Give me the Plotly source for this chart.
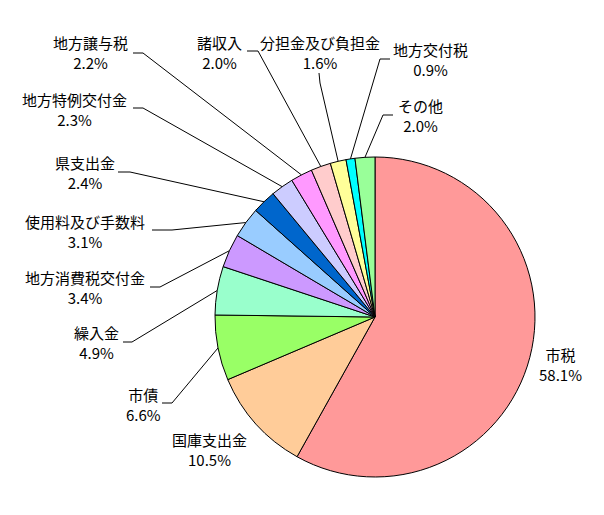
import math
import plotly.graph_objects as go

# ---- data ----
labels = ["市税", "国庫支出金", "市債", "繰入金", "地方消費税交付金", "使用料及び手数料",
          "県支出金", "地方特例交付金", "地方譲与税", "諸収入", "分担金及び負担金",
          "地方交付税", "その他"]
values = [58.1, 10.5, 6.6, 4.9, 3.4, 3.1, 2.4, 2.3, 2.2, 2.0, 1.6, 0.9, 2.0]
colors = ["#FF9999", "#FFCC99", "#99FF66", "#99FFCC", "#CC99FF", "#99CCFF",
          "#0066CC", "#CCCCFF", "#FF99FF", "#FFCCCC", "#FFFF99", "#00FFFF", "#99FF99"]

# ---- layout (pixels) ----
W, H = 604, 515
CX, CY, R = 375, 317, 160

# (label_x, label_y (block centre), leader_start, leader_elbow); None = no leader
label_layout = [
    (560, 364, None, None),
    (209, 449, None, None),
    (143, 404, (162, 403), (172, 403)),
    (97, 342, (123, 342), (132, 342)),
    (85, 287, (150, 287), (160, 287)),
    (85, 231, (152, 230), (172, 230)),
    (85, 172, (118, 172), (130, 172)),
    (74, 109, (133, 108), (143, 108)),
    (90, 52, (133, 53), (143, 53)),
    (220, 52, (247, 51), (258, 51)),
    (320, 52, (319, 73), (320, 83)),
    (430, 60, (390, 59), (380, 59)),
    (421, 115, (393, 115), (383, 115)),
]

def px(x):
    return x / W

def py(y):
    return 1 - y / H

fig = go.Figure(go.Pie(
    labels=labels, values=values, sort=False, direction="clockwise", rotation=0,
    marker=dict(colors=colors, line=dict(color="black", width=1)),
    textinfo="none", hoverinfo="label+percent", showlegend=False,
    domain=dict(x=[px(CX - R), px(CX + R)], y=[py(CY + R), py(CY - R)]),
))

FONT = dict(family="Noto Sans CJK JP", size=15, color="black")
total = sum(values)
cum = 0.0
shapes = []
annotations = []
for lab, v, lay in zip(labels, values, label_layout):
    mid = (cum + v / 2) / total * 2 * math.pi
    cum += v
    ex = CX + R * math.sin(mid)
    ey = CY - R * math.cos(mid)
    tx, ty, s, e = lay
    annotations.append(dict(x=px(tx), y=py(ty), xref="paper", yref="paper",
                            text=f"{lab}<br>{v:.1f}%", showarrow=False,
                            xanchor="center", yanchor="middle", align="center",
                            borderpad=0, font=FONT))
    if s is not None:
        path = f"M {px(s[0])} {py(s[1])} L {px(e[0])} {py(e[1])} L {px(ex)} {py(ey)}"
        shapes.append(dict(type="path", path=path, xref="paper", yref="paper",
                           line=dict(color="black", width=1)))

fig.update_layout(
    width=W, height=H, margin=dict(l=0, r=0, t=0, b=0),
    paper_bgcolor="white", plot_bgcolor="white",
    shapes=shapes, annotations=annotations,
)

fig.write_html("out.html", config={"displayModeBar": False},
               post_script="document.body.style.margin='0';")
